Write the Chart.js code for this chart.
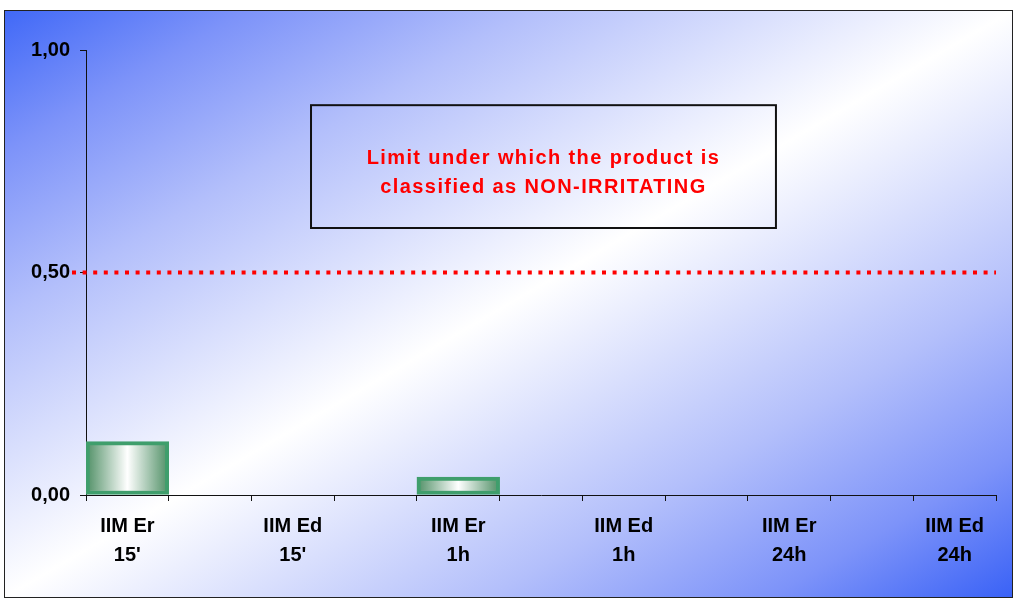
<!DOCTYPE html>
<html>
<head>
<meta charset="utf-8">
<script src="https://cdn.jsdelivr.net/npm/chart.js@4"></script>
<style>
  html, body { margin: 0; padding: 0; background: #fff; }
  #frame {
    position: absolute; left: 4px; top: 10px;
    width: 1007px; height: 586px;
    border: 1px solid #222;
    background: linear-gradient(to bottom right, #4169f7 0%, #7d93f9 12%, #b3bffb 26%, #ffffff 50%, #b3bffb 74%, #7d93f9 88%, #3a62f6 100%);
  }
  #frame canvas { display: block; }
</style>
</head>
<body>
<div id="frame"><canvas id="irrChart" width="1007" height="586"></canvas></div>
<script>
// categories (blank slots sit between the named ones, as in the original)
const categories = [
  ["IIM Er", "15'"], "", ["IIM Ed", "15'"], "", ["IIM Er", "1h"], "",
  ["IIM Ed", "1h"], "", ["IIM Er", "24h"], "", ["IIM Ed", "24h"]
];
const scores = [0.12, null, 0, null, 0.04, null, 0, null, 0, null, 0];
const yTicks = [0, 0.5, 1];
const limitValue = 0.5;
const limitText = ["Limit under which the product is", "classified as NON-IRRITATING"];

const fontFam = "'Liberation Sans', Arial, sans-serif";

function barFill(context) {
  const chart = context.chart;
  const xs = chart.scales.x;
  if (!chart.chartArea || !xs) return "#8fbf9f";
  const cx = xs.getPixelForValue(context.dataIndex);
  const half = (xs.right - xs.left) / categories.length / 2;
  const g = chart.ctx.createLinearGradient(cx - half, 0, cx + half, 0);
  g.addColorStop(0, "#4f8f65");
  g.addColorStop(0.5, "#ffffff");
  g.addColorStop(1, "#4f8f65");
  return g;
}

// red dotted limit line + caption box
const limitPlugin = {
  id: "limitLine",
  afterDatasetsDraw(chart) {
    const ctx = chart.ctx;
    const xs = chart.scales.x, ys = chart.scales.y;
    const y = ys.getPixelForValue(limitValue);
    ctx.save();
    ctx.strokeStyle = "#ff0000";
    ctx.lineWidth = 4;
    ctx.setLineDash([4, 6.6]);
    ctx.beginPath();
    ctx.moveTo(xs.left - 14, y);
    ctx.lineTo(xs.right, y);
    ctx.stroke();
    ctx.setLineDash([]);

    // box placed in data units
    const step = (xs.right - xs.left) / categories.length;
    const bx1 = xs.left + step * 2.72, bx2 = xs.left + step * 8.34;
    const by1 = ys.getPixelForValue(0.876), by2 = ys.getPixelForValue(0.6);
    ctx.lineWidth = 2;
    ctx.strokeStyle = "#111";
    ctx.strokeRect(bx1, by1, bx2 - bx1, by2 - by1);
    ctx.fillStyle = "#ff0000";
    ctx.font = "bold 20px " + fontFam;
    ctx.letterSpacing = "1.4px";
    ctx.textAlign = "center";
    ctx.textBaseline = "middle";
    const mx = (bx1 + bx2) / 2, my = (by1 + by2) / 2;
    ctx.fillText(limitText[0], mx, my - 8);
    ctx.fillText(limitText[1], mx, my + 21);
    ctx.restore();
  }
};

new Chart(document.getElementById("irrChart"), {
  type: "bar",
  data: {
    labels: categories,
    datasets: [{
      data: scores,
      backgroundColor: barFill,
      borderColor: "#3f9e6c",
      borderWidth: 4,
      borderSkipped: false,
      categoryPercentage: 1,
      barPercentage: 1
    }]
  },
  options: {
    responsive: false,
    animation: false,
    layout: { padding: { top: 39, right: 16, left: 0, bottom: 0 } },
    plugins: { legend: { display: false }, tooltip: { enabled: false } },
    scales: {
      x: {
        grid: { drawOnChartArea: false, drawTicks: true, tickLength: 6, color: "#111", lineWidth: 1 },
        border: { color: "#111", width: 1 },
        ticks: {
          color: "#000",
          font: { family: fontFam, size: 20, weight: "bold", lineHeight: 1.45 },
          maxRotation: 0, autoSkip: false, padding: 11
        },
        afterFit(scale) { scale.height = 102; }
      },
      y: {
        min: 0, max: 1,
        afterBuildTicks(scale) { scale.ticks = yTicks.map(v => ({ value: v })); },
        grid: { drawOnChartArea: false, drawTicks: true, tickLength: 6, color: "#111" },
        border: { color: "#111", width: 1 },
        ticks: {
          color: "#000",
          font: { family: fontFam, size: 20, weight: "bold" },
          padding: 10,
          callback: v => v.toFixed(2).replace(".", ",")
        },
        afterFit(scale) { scale.width = 81; }
      }
    }
  },
  plugins: [limitPlugin]
});
</script>
</body>
</html>
